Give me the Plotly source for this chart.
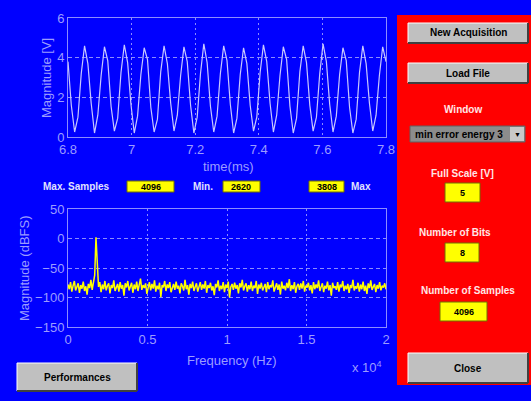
import plotly.graph_objects as go

W, H = 531, 401

# ---- data ----
time_start_ms = 6.8
time_step_ms = 1 / 96
signal_v = [
    3.8, 1.6, 0.25, 1.0, 3.2, 4.6,
    3.7, 1.7, 0.2, 1.1, 3.1, 4.55,
    3.85, 1.55, 0.3, 0.95, 3.25, 4.65,
    3.75, 1.65, 0.2, 1.05, 3.15, 4.5,
    3.9, 1.5, 0.25, 0.9, 3.3, 4.6,
    3.7, 1.7, 0.3, 1.1, 3.1, 4.55,
    3.8, 1.6, 0.2, 1.0, 3.2, 4.7,
    3.75, 1.55, 0.25, 1.05, 3.2, 4.6,
    3.85, 1.65, 0.2, 0.95, 3.15, 4.5,
    3.7, 1.6, 0.3, 1.0, 3.25, 4.65,
    3.8, 1.7, 0.25, 1.1, 3.1, 4.55,
    3.9, 1.55, 0.2, 0.95, 3.3, 4.6,
    3.75, 1.6, 0.3, 1.0, 3.2, 4.7,
    3.8, 1.65, 0.25, 1.05, 3.15, 4.5,
    3.85, 1.5, 0.2, 0.9, 3.25, 4.6,
    3.7, 1.7, 0.3, 1.1, 3.1, 4.55,
    3.8,
]

freq_start = 0.0      # x 10^4 Hz
freq_step = 0.008
spectrum_dbfs = [
    -78, -86, -74, -90, -80, -72, -88, -83, -76, -92,
    -79, -85, -73, -89, -81, -95, -77, -84, -70, -87,
    -75, -62, 2, -55, -82, -74, -91, -78, -86, -72,
    -88, -80, -76, -93, -79, -84, -71, -89, -82, -77,
    -90, -74, -85, -79, -97, -76, -83, -72, -88, -81,
    -75, -92, -78, -86, -73, -89, -80, -68, -87, -79,
    -84, -76, -94, -81, -74, -88, -77, -85, -71, -90,
    -80, -86, -75, -99, -79, -83, -72, -89, -78, -84,
    -74, -91, -82, -77, -87, -73, -85, -80, -93, -76,
    -81, -88, -70, -86, -79, -95, -77, -84, -73, -89,
    -82, -76, -90, -80, -74, -87, -78, -85, -72, -92,
    -79, -84, -75, -88, -81, -96, -77, -83, -71, -89,
    -80, -86, -74, -91, -78, -84, -73, -100, -82, -77,
    -87, -75, -85, -79, -93, -76, -83, -70, -88, -81,
    -76, -90, -79, -86, -73, -89, -80, -84, -72, -94,
    -78, -85, -75, -88, -81, -77, -91, -74, -86, -79,
    -83, -71, -90, -80, -76, -87, -78, -95, -73, -85,
    -80, -88, -75, -84, -69, -89, -79, -86, -74, -92,
    -81, -77, -87, -76, -85, -72, -90, -80, -83, -75,
    -88, -79, -93, -74, -86, -78, -84, -71, -89, -82,
    -76, -91, -80, -85, -73, -88, -79, -97, -75, -84,
    -81, -87, -74, -90, -78, -83, -72, -89, -80, -86,
    -77, -92, -79, -84, -70, -88, -81, -85, -75, -90,
    -78, -86, -73, -89, -80, -94, -76, -84, -71, -87,
    -82, -77, -91, -79, -85, -74, -88, -80, -83, -76,
    -86,
]

time_ticks = [6.8, 7.0, 7.2, 7.4, 7.6, 7.8]
time_tick_labels = ["6.8", "7", "7.2", "7.4", "7.6", "7.8"]
volt_ticks = [0, 2, 4, 6]
freq_ticks = [0, 0.5, 1, 1.5, 2]
freq_tick_labels = ["0", "0.5", "1", "1.5", "2"]
db_ticks = [-150, -100, -50, 0, 50]

info_labels = ["Max. Samples", "Min.", "Max"]
info_values = ["4096", "2620", "3808"]
buttons = ["New Acquisition", "Load File", "Close", "Performances"]
window_choice = "min error energy 3"
panel_labels = ["Window", "Full Scale [V]", "Number of Bits", "Number of Samples"]
panel_values = ["5", "8", "4096"]

# ---- styling ----
BLUE = "#0000ff"
AXC = "#8c8cff"
TXC = "#9c9cff"
FONT = "Liberation Sans"


def px(x):
    return x / W


def py(y):
    return 1 - y / H


fig = go.Figure()
fig.add_trace(go.Scatter(y=signal_v, x0=time_start_ms, dx=time_step_ms, mode="lines",
                         line=dict(color="#c8c8ff", width=1.2), xaxis="x", yaxis="y",
                         showlegend=False, hoverinfo="skip"))
fig.add_trace(go.Scatter(y=spectrum_dbfs, x0=freq_start, dx=freq_step, mode="lines",
                         line=dict(color="#ffff00", width=1.5), xaxis="x2", yaxis="y2",
                         showlegend=False, hoverinfo="skip"))

axis_common = dict(showline=True, mirror=True, linecolor=AXC, linewidth=1,
                   showgrid=True, gridcolor=AXC, gridwidth=1, zeroline=False,
                   ticks="", tickfont=dict(family=FONT, size=13, color=TXC),
                   fixedrange=True, automargin=False)

fig.update_layout(
    width=W, height=H, autosize=False,
    margin=dict(l=0, r=0, t=0, b=0, pad=0, autoexpand=False),
    paper_bgcolor=BLUE, plot_bgcolor=BLUE,
    xaxis=dict(domain=[px(68), px(386)], range=[6.8, 7.8], tickvals=time_ticks,
               ticktext=time_tick_labels, anchor="y", griddash="2px,3px", **axis_common),
    yaxis=dict(domain=[py(137), py(18)], range=[0, 6], tickvals=volt_ticks,
               anchor="x", griddash="4px,3px", **axis_common),
    xaxis2=dict(domain=[px(68), px(386)], range=[0, 2], tickvals=freq_ticks,
                ticktext=freq_tick_labels, anchor="y2", griddash="2px,3px", **axis_common),
    yaxis2=dict(domain=[py(327), py(209)], range=[-150, 50], tickvals=db_ticks,
                anchor="x2", griddash="4px,3px", **axis_common),
)

shapes = []
ann = []


def rect(x0, y0, x1, y1, fill, line=None, lw=0):
    shapes.append(dict(type="rect", xref="paper", yref="paper",
                       x0=px(x0), x1=px(x1), y0=py(y1), y1=py(y0),
                       fillcolor=fill, line=dict(color=line or fill, width=lw), layer="above"))


def seg(x0, y0, x1, y1, color, w=1):
    shapes.append(dict(type="line", xref="paper", yref="paper",
                       x0=px(x0), x1=px(x1), y0=py(y0), y1=py(y1),
                       line=dict(color=color, width=w), layer="above"))


def text(x, y, s, color, size=10, bold=True, angle=0, anchor="center"):
    ann.append(dict(xref="paper", yref="paper", x=px(x), y=py(y), text=(f"<b>{s}</b>" if bold else s),
                    showarrow=False, xanchor=anchor, yanchor="middle", textangle=angle,
                    font=dict(family=FONT, size=size, color=color)))


def button(x0, y0, x1, y1, label):
    rect(x0, y0, x1, y1, "#c0c0c0")
    seg(x0, y0, x1, y0, "#ffffff")
    seg(x0, y0, x0, y1, "#ffffff")
    seg(x0, y1, x1, y1, "#404040", 2)
    seg(x1, y0, x1, y1, "#404040", 2)
    text((x0 + x1) / 2, (y0 + y1) / 2, label, "#000000", 10)


def ybox(x0, y0, x1, y1, val):
    rect(x0, y0, x1, y1, "#ffff00", "#707000", 1)
    text((x0 + x1) / 2, (y0 + y1) / 2 + 0.5, val, "#000000", 9)


# axis titles / labels
text(228, 166, "time(ms)", TXC, 13, bold=False)
text(232, 360, "Frequency (Hz)", TXC, 13, bold=False)
text(367, 367, "x 10<sup>4</sup>", TXC, 13, bold=False)
text(46, 78, "Magnitude [V]", TXC, 13, bold=False, angle=-90)
text(24, 268, "Magnitude (dBFS)", TXC, 13, bold=False, angle=-90)

# info row
text(76, 186, info_labels[0], "#e0e0ff", 10)
ybox(127, 181, 174, 192, info_values[0])
text(203, 186, info_labels[1], "#e0e0ff", 10)
ybox(223, 181, 260, 192, info_values[1])
ybox(309, 181, 344, 192, info_values[2])
text(361, 186, info_labels[2], "#e0e0ff", 10)

# red panel
rect(397, 15, 531, 385, "#ff0000")
button(408, 23, 528, 43, buttons[0])
button(408, 63, 528, 83, buttons[1])
PT = "#ffe6e6"
text(463, 109, panel_labels[0], PT, 10)
rect(410, 126, 525, 142, "#8c8c8c", "#606060", 1)
text(413, 134, window_choice, "#000000", 10, anchor="left")
rect(510, 127, 524, 141, "#c8c8c8")
text(517, 134, "▼", "#000000", 7, bold=False)
text(462, 173, panel_labels[1], PT, 10)
ybox(445, 183, 480, 202, panel_values[0])
text(455, 232, panel_labels[2], PT, 10)
ybox(445, 243, 479, 262, panel_values[1])
text(468, 290, panel_labels[3], PT, 10)
ybox(440, 302, 487, 321, panel_values[2])
button(408, 353, 528, 383, buttons[2])
button(17, 363, 137, 391, buttons[3])

fig.update_layout(shapes=shapes, annotations=ann)
fig.write_html("out.html")
